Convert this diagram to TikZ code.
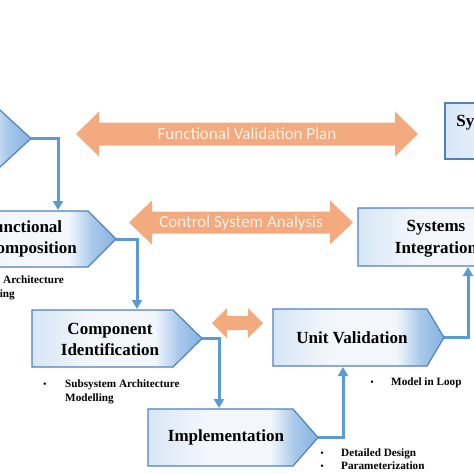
\documentclass[tikz,border=0pt]{standalone}
\usepackage{fontspec}
\setmainfont{Liberation Serif}
\newfontfamily\arrowfont{Carlito}
\usetikzlibrary{arrows.meta}
\definecolor{bxA}{HTML}{D6E6F6}
\definecolor{bxB}{HTML}{F3F7FC}
\definecolor{bxC}{HTML}{A9C9EA}
\definecolor{bxD}{HTML}{86B1E0}
\definecolor{bxline}{HTML}{4F81BD}
\definecolor{conn}{HTML}{5B9BD5}
\definecolor{orng}{HTML}{F3AA7E}
\definecolor{orngtxt}{HTML}{FEF1E8}
\pgfdeclarehorizontalshading{boxshade}{100bp}{color(0bp)=(bxA); color(25bp)=(bxA); color(42bp)=(bxB); color(61bp)=(bxB); color(68bp)=(bxC); color(75bp)=(bxD); color(100bp)=(bxD)}
\tikzset{
  boxstyle/.style={draw=bxline, line width=1.2pt, shading=boxshade},
  boxtext/.style={font=\fontsize{17}{21.5}\selectfont\bfseries, align=center, text=black},
  bultext/.style={font=\fontsize{11.2}{14}\selectfont\bfseries, anchor=base west, inner sep=0pt},
  bulmark/.style={font=\fontsize{10}{12}\selectfont, anchor=base, inner sep=0pt},
  connector/.style={draw=conn, line width=3pt, -{Triangle[width=10pt,length=9pt]}},
  bigarrow/.style={fill=orng, draw=none},
  arrtext/.style={font=\arrowfont\fontsize{17}{19}\selectfont, text=orngtxt}
}
\newcommand\pentabox[6]{% name, left, top, bottom, slant start, tip x
  \path[boxstyle] (#2,#3) -- (#5,#3) -- (#6,{(#3+#4)/2}) -- (#5,#4) -- (#2,#4) -- cycle;
  \coordinate (#1-tip) at (#6,{(#3+#4)/2});
}
\begin{document}
\begin{tikzpicture}[x=1pt,y=-1pt]
\useasboundingbox (0,0) rectangle (474,474);
\clip (0,0) rectangle (474,474);
\fill[white] (0,0) rectangle (474,474);

% orange double arrows
\path[bigarrow] (76,134) -- (99,111.5) -- (99,122.5) -- (395,122.5) -- (395,111.5) -- (418,134) -- (395,156.5) -- (395,145.5) -- (99,145.5) -- (99,156.5) -- cycle;
\node[arrtext] (fvp) at (247,134) {Functional Validation Plan};
\path[bigarrow] (129,222.5) -- (152,200.5) -- (152,211.5) -- (330,211.5) -- (330,200.5) -- (353,222.5) -- (330,244.5) -- (330,233.5) -- (152,233.5) -- (152,244.5) -- cycle;
\node[arrtext] (csa) at (241,222.5) {Control System Analysis};
\path[bigarrow] (212,323) -- (227,308) -- (227,316) -- (248,316) -- (248,308) -- (263,323) -- (248,338) -- (248,330) -- (227,330) -- (227,338) -- cycle;

% boxes
\pentabox{req}{-140}{110}{167}{0}{31}
\pentabox{fd}{-54}{211}{267}{88}{116}
\pentabox{ci}{32}{310}{367}{173}{202}
\pentabox{im}{148}{409}{466}{293}{318}
\pentabox{uv}{273}{309}{366}{427}{444}
\pentabox{si}{358}{208}{266}{499}{528}
\path[boxstyle] (445,103) rectangle (640,159);

\node[boxtext] (fdt) at (23,239) {Functional\\Decomposition};
\node[boxtext] (cit) at (110,339.5) {Component\\Identification};
\node[boxtext] (imt) at (226,437.5) {Implementation};
\node[boxtext] (uvt) at (352,338) {Unit Validation};
\node[boxtext] (sit) at (436,238.5) {Systems\\Integration};
\node[boxtext] (svt) at (522,122) {System Validation};

% connector targets
\coordinate (fd-in) at (58,210);
\coordinate (ci-in) at (137,309);
\coordinate (im-in) at (219,408);
\coordinate (uv-in) at (343,367);
\coordinate (si-in) at (468,267);

\draw[connector] (req-tip) -| (fd-in);
\draw[connector] (fd-tip) -| (ci-in);
\draw[connector] (ci-tip) -| (im-in);
\draw[connector] (im-tip) -| (uv-in);
\draw[connector] (uv-tip) -| (si-in);

% bullet texts
\node[bulmark] (b1) at (-53,283) {•};
\node[bultext] (t1a) at (-34,283) {System Architecture};
\node[bultext] (t1b) at (-34,297) {Modelling};
\node[bulmark] (b2) at (45,387) {•};
\node[bultext] (t2a) at (65,387) {Subsystem Architecture};
\node[bultext] (t2b) at (65,401) {Modelling};
\node[bulmark] (b3) at (372,385) {•};
\node[bultext] (t3) at (391,385) {Model in Loop};
\node[bulmark] (b4) at (322,456) {•};
\node[bultext] (t4) at (341,456) {Detailed Design};
\node[bulmark] (b5) at (322,469) {•};
\node[bultext] (t5) at (341,469) {Parameterization};
\end{tikzpicture}
\end{document}
